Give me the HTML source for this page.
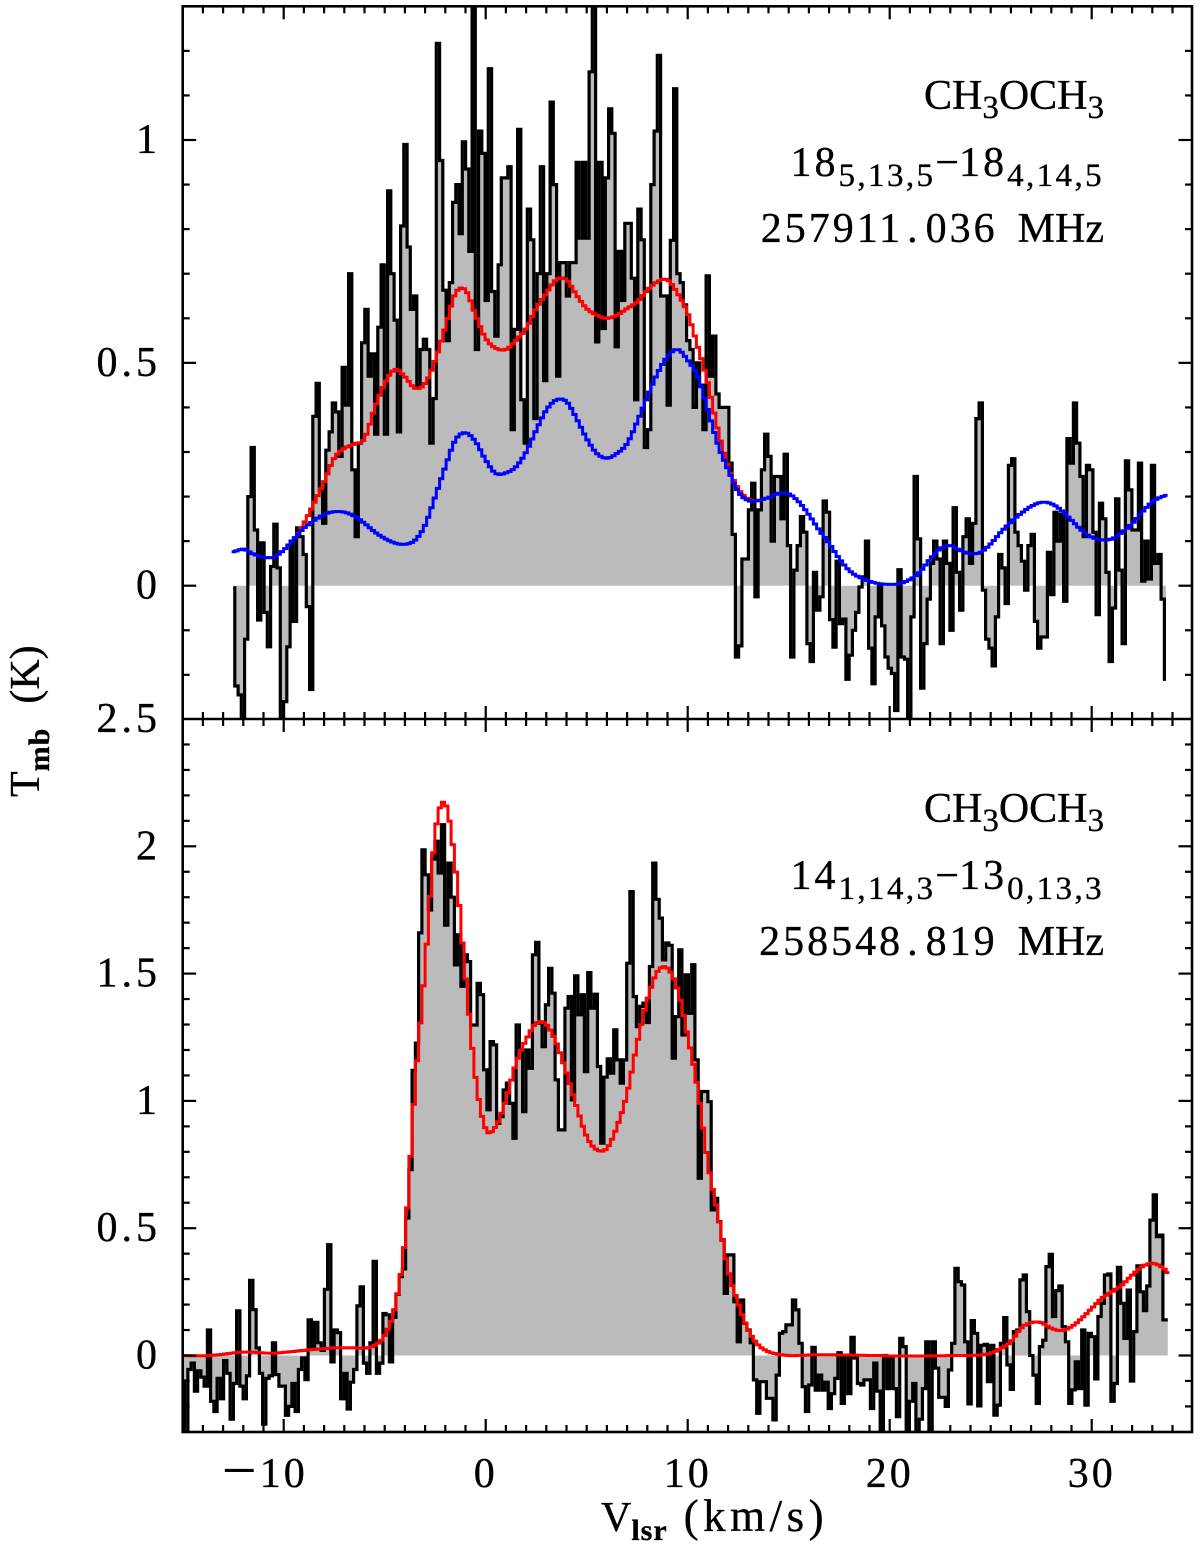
<!DOCTYPE html>
<html lang="en">
<head>
<meta charset="utf-8">
<title>CH3OCH3 spectra</title>
<style>
html,body{margin:0;padding:0;background:#fff}
svg{display:block}
text{font-family:"Liberation Serif","DejaVu Serif",serif;fill:#000;font-size:42px;stroke:#000;stroke-width:.35px}
.num{letter-spacing:3px}
.sub{font-size:33px;letter-spacing:2.4px}
.bsub{font-size:30px;font-weight:bold;letter-spacing:1px}
</style>
</head>
<body>
<svg id="chart" xmlns="http://www.w3.org/2000/svg" width="1200" height="1550" viewBox="0 0 1200 1550">
<defs>
<clipPath id="clip-top"><rect x="182" y="6" width="1010" height="713"/></clipPath>
<clipPath id="clip-bottom"><rect x="182" y="719" width="1010" height="713"/></clipPath>
</defs>
<rect width="1200" height="1550" fill="#fff"/>
<g id="top-marks" clip-path="url(#clip-top)"></g>
<g id="bottom-marks" clip-path="url(#clip-bottom)"></g>
<g id="axes"></g>

<g>
<text x="1104" y="109" text-anchor="end">CH<tspan class="sub" style="letter-spacing:0" dy="9">3</tspan><tspan dy="-9">OCH</tspan><tspan class="sub" style="letter-spacing:0" dy="9">3</tspan></text>
<text x="1104" y="176" text-anchor="end"><tspan class="num">18</tspan><tspan class="sub" dy="10">5,13,5</tspan><tspan dy="-10">−</tspan><tspan class="num">18</tspan><tspan class="sub" dy="10">4,14,5</tspan></text>
<text x="1104" y="242" text-anchor="end"><tspan class="num">257911</tspan><tspan dx="4" style="letter-spacing:8px">.</tspan><tspan class="num">036</tspan><tspan dx="20">MHz</tspan></text>
</g>
<g>
<text x="1104" y="822" text-anchor="end">CH<tspan class="sub" style="letter-spacing:0" dy="9">3</tspan><tspan dy="-9">OCH</tspan><tspan class="sub" style="letter-spacing:0" dy="9">3</tspan></text>
<text x="1104" y="889" text-anchor="end"><tspan class="num">14</tspan><tspan class="sub" dy="10">1,14,3</tspan><tspan dy="-10">−</tspan><tspan class="num">13</tspan><tspan class="sub" dy="10">0,13,3</tspan></text>
<text x="1104" y="955" text-anchor="end"><tspan class="num">258548</tspan><tspan dx="4" style="letter-spacing:8px">.</tspan><tspan class="num">819</tspan><tspan dx="20">MHz</tspan></text>
</g>
<text x="601" y="1531">V<tspan class="bsub" dy="9">lsr</tspan><tspan dy="-9" dx="16" style="font-size:45px;letter-spacing:4.5px">(km/s)</tspan></text>
<text transform="translate(39,797) rotate(-90)">T<tspan class="bsub" dy="10">mb</tspan><tspan dy="-10" dx="24">(K)</tspan></text>
</svg>

<script>
// ---- channel data (K) ----
var topStartVelocity = -12.5;
var bottomStartVelocity = -14.985;
var channelWidth = 0.1609;

var topChannels = [
-0.005,-0.225,-0.245,-0.34,-0.12,0.20,0.31,0.125,-0.077,0.096,
-0.06,-0.137,0.043,0.138,0.04,-0.34,-0.26,-0.137,0.10,-0.08,
0.13,0.11,0.07,-0.047,-0.233,0.38,0.454,0.215,0.14,0.304,
0.345,0.41,0.39,0.29,0.49,0.405,0.70,0.26,0.11,0.32,
0.545,0.62,0.47,0.52,0.34,0.58,0.72,0.34,0.886,0.70,
0.596,0.345,0.807,0.99,0.76,0.62,0.65,0.447,0.53,0.553,
0.53,0.32,0.42,1.217,0.954,0.663,0.55,0.68,0.86,0.90,
0.79,0.996,0.935,0.75,1.4,0.53,1.02,0.97,0.64,1.16,
0.66,0.56,0.72,0.915,0.915,0.94,0.35,0.575,1.024,0.417,
0.32,0.845,0.776,0.375,0.70,0.94,0.46,0.70,1.085,0.90,
0.47,0.725,0.725,0.65,0.725,0.725,0.95,0.78,0.95,0.78,
1.153,1.33,0.547,0.95,0.577,0.915,1.07,1.015,0.536,0.75,
0.64,0.813,0.813,0.69,0.417,0.845,0.776,0.31,0.35,0.90,
1.02,1.19,0.65,0.65,0.405,0.775,1.115,0.70,0.68,0.63,
0.55,0.53,0.40,0.50,0.45,0.35,0.695,0.47,0.56,0.43,
0.40,0.40,0.40,0.275,0.115,-0.16,-0.135,0.06,0.06,0.17,
0.23,-0.025,0.17,0.26,0.34,0.29,0.10,0.245,0.245,0.15,
0.295,0.09,-0.16,0.035,0.09,0.155,0.12,-0.13,-0.17,0.03,
-0.055,-0.025,0.19,0.165,-0.076,-0.138,0.055,-0.085,-0.075,-0.21,
-0.156,-0.10,-0.06,-0.003,0.02,0.10,-0.14,-0.22,-0.07,0,
-0.09,-0.16,-0.185,-0.197,-0.28,0.036,-0.16,-0.165,-0.34,-0.07,
0.245,0.105,-0.23,-0.13,-0.03,0.05,0.10,0.06,-0.13,0.10,
0.05,-0.10,0.175,0.03,-0.055,0.11,0.15,0.05,0.14,0.375,
0.41,-0.01,-0.12,-0.14,-0.18,-0.07,0.07,0.04,-0.04,0.27,
0.285,0.12,0.09,0.055,-0.01,0.09,0.115,-0.08,-0.14,-0.115,
-0.115,0.075,-0.02,0.165,0.10,0.16,-0.035,0.33,0.275,0.41,
0.32,0.245,0.11,0.27,0.26,0.12,-0.065,0.185,0.15,0.03,
-0.17,-0.05,0.195,0.035,-0.13,0.28,0.215,0.125,0.125,0.275,
0.01,0.10,0.015,0.27,0.05,0.07,-0.03,-0.21
];

var bottomChannels = [
-0.10,-0.33,-0.055,-0.03,-0.14,-0.06,-0.085,-0.12,0.10,-0.18,
-0.22,-0.09,-0.17,-0.02,-0.07,-0.25,-0.11,0.175,-0.12,-0.17,
-0.08,0.295,0.18,0.03,-0.07,-0.27,-0.09,-0.08,0.05,-0.075,
-0.12,-0.12,-0.235,-0.2,-0.11,-0.22,-0.055,-0.01,-0.095,0.14,
0.03,0.13,0.05,0.02,0.26,0.435,-0.025,0.10,0.09,-0.17,
-0.07,-0.21,-0.105,-0.055,0.195,0.27,-0.03,-0.07,0.05,0.37,
-0.07,-0.03,0.165,0.16,-0.025,0.15,0.24,0.31,0.34,0.54,
0.73,1.12,1.227,1.66,1.986,1.888,1.75,1.95,2.02,1.895,
2.085,1.69,1.934,1.80,1.534,1.652,1.45,1.574,1.547,1.298,
1.298,1.462,1.417,1.122,0.965,1.233,1.22,0.912,0.938,1.043,
1.07,0.99,0.853,1.298,1.20,0.958,1.20,1.128,1.574,1.623,
1.305,1.213,1.377,1.521,1.423,1.083,0.886,0.886,1.364,1.41,
1.004,1.491,1.338,1.417,1.115,1.504,1.364,1.419,1.135,0.834,
1.093,1.165,1.109,1.279,1.161,1.07,1.161,1.541,1.822,1.41,
1.292,1.371,1.384,1.308,1.528,1.934,1.792,1.718,1.554,1.62,
1.611,1.168,1.331,1.593,1.259,1.495,1.344,1.535,1.161,0.696,
1.037,1.037,0.997,0.572,0.617,0.526,0.454,0.244,0.395,0.395,
0.211,0.054,0.218,0.126,0.10,0.05,-0.096,-0.227,-0.103,-0.103,
-0.168,-0.168,-0.253,-0.077,0.087,0.094,0.12,0.12,0.218,0.179,
0.048,-0.122,-0.22,-0.116,0.032,-0.136,-0.077,-0.136,-0.105,-0.208,
-0.15,-0.09,0.011,-0.188,0,-0.15,0.071,-0.01,-0.11,-0.116,
-0.096,-0.096,-0.208,-0.03,-0.14,-0.33,0,-0.13,-0.005,-0.13,
-0.24,0.067,0.035,-0.30,-0.18,-0.11,-0.33,-0.25,-0.13,0.054,
-0.293,0.054,-0.05,-0.164,-0.164,-0.2,-0.057,0.048,0.342,0.29,
0.277,0.054,-0.19,0.137,0.087,-0.198,0.04,0.044,-0.103,0.04,
-0.234,-0.195,0.048,0.149,-0.037,-0.133,0.094,0.10,0.297,0.316,
0.172,0,-0.077,-0.188,0.035,0.06,0.349,0.397,0.153,0.255,
0.273,0.113,0.054,-0.188,-0.135,-0.025,-0.13,0.10,-0.195,0.087,
0.074,-0.092,0.153,0.205,0.316,0.32,-0.18,-0.11,0.346,0.205,
0.067,0.257,-0.10,0.094,0.352,0.25,0.176,0.273,0.532,0.631,
0.467,0.473,0.14,0.14
];

// ---- model curves, read every 0.5 km/s ----
var modelStep = 0.5;
var topRedStart = -9.5;
var topRedEnd = 13.5;
var topRedModel = [
0.105,0.14,0.185,0.233,0.286,0.308,0.318,0.33,0.398,0.454,0.485,0.469,0.443,0.454,0.506,0.58,
0.656,0.663,0.607,0.555,0.533,0.53,0.551,0.577,0.622,0.656,0.687,0.686,0.652,0.622,0.607,0.60,
0.607,0.622,0.637,0.663,0.682,0.686,0.656,0.611,0.536,0.454,0.349,0.267,0.218,0.194,0.191
];
var topBlueStart = -12.5;
var topBlueModel = [
0.076,0.082,0.071,0.064,0.064,0.08,0.105,0.129,0.146,0.16,0.166,0.165,0.156,0.14,0.121,0.106,0.096,0.093,
0.102,0.136,0.20,0.267,0.327,0.343,0.323,0.282,0.252,0.253,0.267,0.30,0.349,0.394,0.417,0.413,0.375,0.33,
0.297,0.286,0.297,0.319,0.368,0.424,0.476,0.514,0.53,0.506,0.469,0.394,0.316,0.26,0.211,0.191,0.191,0.198,
0.207,0.206,0.188,0.159,0.125,0.095,0.061,0.034,0.019,0.01,0.0045,0.003,0.0045,0.014,0.031,0.06,0.083,0.09,
0.079,0.072,0.075,0.094,0.12,0.143,0.162,0.178,0.187,0.184,0.169,0.147,0.124,0.109,0.103,0.105,0.12,0.139,
0.165,0.188,0.20,0.205
];
var bottomRedStart = -15;
var bottomRedModel = [
0,-0.001,-0.001,0.001,0.005,0.01,0.013,0.013,0.01,0.009,0.012,0.016,0.02,0.024,0.027,0.03,0.03,0.03,0.029,
0.04,0.08,0.19,0.46,1.056,1.528,2.05,2.167,1.92,1.49,1.09,0.89,0.90,1.004,1.148,1.24,1.305,1.30,1.227,1.11,
0.978,0.86,0.808,0.814,0.899,1.03,1.227,1.397,1.508,1.521,1.436,1.253,1.043,0.755,0.552,0.336,0.205,0.10,
0.041,0.015,0.005,0,0,0.002,0.003,0.003,0.002,0.002,0.001,0,0,-0.002,-0.002,-0.002,-0.002,-0.002,-0.001,0,0,0,
0.002,0.009,0.028,0.054,0.107,0.129,0.129,0.107,0.098,0.113,0.146,0.185,0.225,0.251,0.277,0.316,0.349,0.362,
0.346,0.31
];

// ---- axis definitions ----
var xMajorTicks = [-10,0,10,20,30];
var xTickLabels = ["−10","0","10","20","30"];
var topYMajorTicks = [0,0.5,1];
var topYTickLabels = ["0","0.5","1"];
var bottomYMajorTicks = [0,0.5,1,1.5,2,2.5];
var bottomYTickLabels = ["0","0.5","1","1.5","2","2.5"];

var NS = "http://www.w3.org/2000/svg";
var xDomain = [-15,35], xRange = [182.7,1192.7];
function xScale(v){ return xRange[0] + (v - xDomain[0]) * (xRange[1] - xRange[0]) / (xDomain[1] - xDomain[0]); }
function yTop(k){ return 585.7 - k * 445.7; }
function yBottom(k){ return 1355.5 - k * 254.6; }

function make(tag, parent, attrs){
  var e = document.createElementNS(NS, tag);
  for (var k in attrs) e.setAttribute(k, attrs[k]);
  parent.appendChild(e);
  return e;
}

function channelVelocity(start, i){ return start + i * channelWidth; }

// Histogram outline through channel values (each channel centred on its velocity)
function stepPath(start, values, yFn){
  var w = xScale(channelWidth) - xScale(0), d = "";
  for (var i = 0; i < values.length; i++){
    var x = xScale(channelVelocity(start, i));
    var y = yFn(values[i]).toFixed(1);
    if (i === 0) d += "M" + x.toFixed(1) + " " + y;
    else d += "V" + y;
    d += "H" + (x + (i === values.length - 1 ? 0 : w / 2)).toFixed(1);
  }
  return d;
}

// Catmull-Rom read of a model curve at a velocity
function modelAt(v, start, arr){
  var t = (v - start) / modelStep, i = Math.floor(t), f = t - i;
  function g(n){ return arr[Math.max(0, Math.min(arr.length - 1, n))]; }
  var a = g(i - 1), b = g(i), c = g(i + 1), d = g(i + 2);
  return 0.5 * (2*b + (c-a)*f + (2*a-5*b+4*c-d)*f*f + (3*b-a-3*c+d)*f*f*f);
}

// Model sampled on the channel grid, as in the original stepped plot
function modelPath(chStart, nCh, mStart, mEnd, arr, yFn){
  var w = xScale(channelWidth) - xScale(0), d = "", first = true;
  for (var i = 0; i < nCh; i++){
    var v = channelVelocity(chStart, i);
    if (v < mStart || v > mEnd) continue;
    var x = xScale(v), y = yFn(modelAt(v, mStart, arr)).toFixed(1);
    if (first){ d += "M" + (x - w / 2).toFixed(1) + " " + y; first = false; }
    else d += "V" + y;
    d += "H" + (x + w / 2).toFixed(1);
  }
  return d;
}

function drawSpectrum(group, start, values, yFn){
  var line = stepPath(start, values, yFn);
  var first = xScale(start).toFixed(1);
  var last = xScale(channelVelocity(start, values.length - 1)).toFixed(1);
  var zero = yFn(0).toFixed(1);
  var fill = make("path", group, {d: "M" + first + " " + zero + "L" + line.slice(1) + "L" + last + " " + zero + "Z", fill: "#bbbbbb", stroke: "none"});
  
  
  var stroke = make("path", group, {d: line, fill: "none", stroke: "#000", "stroke-width": 3.2, "stroke-linejoin": "miter"});
  
  
}

var topG = document.getElementById("top-marks");
var botG = document.getElementById("bottom-marks");
drawSpectrum(topG, topStartVelocity, topChannels, yTop);
drawSpectrum(botG, bottomStartVelocity, bottomChannels, yBottom);

var topRedLine = make("path", topG, {d: modelPath(topStartVelocity, topChannels.length, topRedStart, topRedEnd, topRedModel, yTop), fill: "none", stroke: "#ff0000", "stroke-width": 3});


var topBlueLine = make("path", topG, {d: modelPath(topStartVelocity, topChannels.length, topBlueStart, 34, topBlueModel, yTop), fill: "none", stroke: "#0000ff", "stroke-width": 3});


var bottomRedLine = make("path", botG, {d: modelPath(bottomStartVelocity, bottomChannels.length, bottomRedStart, 34, bottomRedModel, yBottom), fill: "none", stroke: "#ff0000", "stroke-width": 3});



// ---- axes ----
var ax = document.getElementById("axes");
var left = 182.7, right = 1192, yA = 6.3, yB = 719, yC = 1432;

var frame = make("rect", ax, {x: left, y: yA, width: right - left, height: yC - yA, fill: "none", stroke: "#000", "stroke-width": 2.6});


var divider = make("line", ax, {x1: left, x2: right, y1: yB, y2: yB, stroke: "#000", "stroke-width": 2.6});



function tick(x1, y1, x2, y2){
  var t = make("line", ax, {x1: x1, y1: y1, x2: x2, y2: y2, stroke: "#000", "stroke-width": 2.2});
  
  
}

// x ticks on every horizontal edge
for (var v = -15; v <= 35; v++){
  var major = (v % 10 === 0);
  var len = major ? 13 : 7;
  var xp = xScale(v);
  if (xp < left + 1 || xp > right - 1) continue;
  tick(xp, yA, xp, yA + len);
  tick(xp, yB, xp, yB - len);
  tick(xp, yB, xp, yB + len);
  tick(xp, yC, xp, yC - len);
}

// y ticks, 0.1 K minor spacing
function yTicks(yFn, from, to, top, bottom){
  for (var n = from; n <= to; n++){
    var k = n / 10;
    var y = yFn(k);
    if (y <= top + 1 || y >= bottom - 1) continue;
    var l = (n % 5 === 0) ? 13.5 : 7;
    tick(left, y, left + l, y);
    tick(right, y, right - l, y);
  }
}
yTicks(yTop, -3, 13, yA, yB);
yTicks(yBottom, -3, 25, yB, yC);

function yLabels(ticks, labels, yFn){
  for (var i = 0; i < ticks.length; i++){
    var t = make("text", document.getElementById("chart"), {x: 161, y: yFn(ticks[i]) + 13, "text-anchor": "end"});
    
    
    t.setAttribute('style', 'letter-spacing:4px');
    t.textContent = labels[i];
  }
}
yLabels(topYMajorTicks, topYTickLabels, yTop);
yLabels(bottomYMajorTicks, bottomYTickLabels, yBottom);

for (var i = 0; i < xMajorTicks.length; i++){
  var lab = make("text", document.getElementById("chart"), {x: xScale(xMajorTicks[i]) + (xMajorTicks[i] === 0 ? 12 : 24), y: 1487, "text-anchor": "end"});
  
  
  lab.setAttribute('style', 'letter-spacing:3px');
  var raw = xTickLabels[i];
  if (raw.charAt(0) === "−"){
    var minus = make("tspan", lab, {"font-size": 62, dy: 4});
    minus.setAttribute('style', 'font-size:62px;stroke-width:0');
    minus.textContent = "−";
    var digits = make("tspan", lab, {dy: -4});
    digits.textContent = raw.slice(1);
  } else {
    lab.textContent = raw;
  }
}
</script>
</body>
</html>
